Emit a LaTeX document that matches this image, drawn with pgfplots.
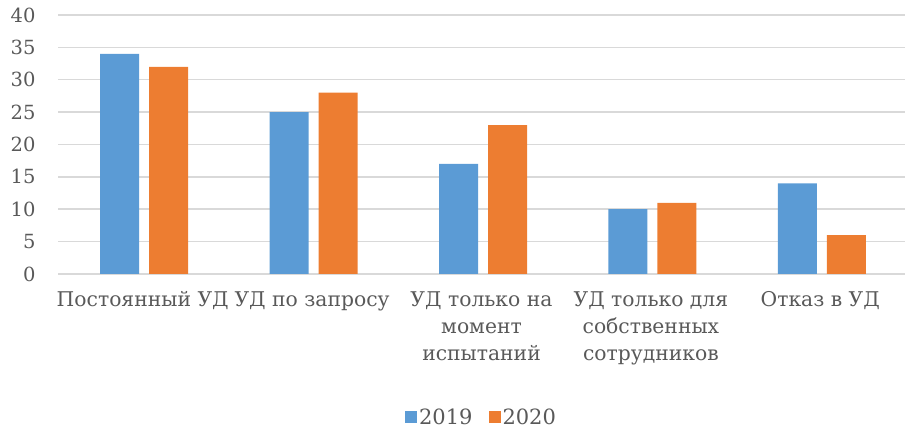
\documentclass[border=0pt]{standalone}
\usepackage{pgfplots}
\pgfplotsset{compat=1.18}
\usepackage{fontspec}
\setmainfont{DejaVu Serif}
\definecolor{cblue}{HTML}{5B9BD5}
\definecolor{corange}{HTML}{ED7D31}
\definecolor{cgrid}{HTML}{D9D9D9}
\definecolor{ctext}{HTML}{595959}
\begin{document}
\begin{tikzpicture}[x=1pt,y=1pt]
\begin{axis}[
  scale only axis,
  width=847pt, height=259pt,
  xmin=-0.5, xmax=4.5, ymin=0, ymax=40,
  ytick={0,5,...,40},
  xtick=data,
  xticklabels={{Постоянный УД},{УД по запросу},{УД только на\\момент\\испытаний},{УД только для\\собственных\\сотрудников},{Отказ в УД}},
  x tick label style={align=center, font=\fontsize{20.3}{27}\selectfont, text=ctext, yshift=-14pt},
  y tick label style={font=\fontsize{19.5}{22}\selectfont, text=ctext, xshift=-19pt},
  /pgf/number format/assume math mode=true,
  axis line style={draw=none},
  major tick length=0pt,
  ymajorgrids, major grid style={cgrid, line width=1.5pt},
  axis x line*=bottom,
  x axis line style={draw=cgrid, line width=1.5pt},
  ybar, bar width=39pt,
  clip=false,
  legend style={at={(0.5,-0.595)}, anchor=south, draw=none, font=\fontsize{21}{24}\selectfont, text=ctext, legend columns=2, /tikz/every even column/.append style={column sep=14pt}, inner sep=0pt},
  legend image code/.code={\fill[#1] (0pt,-6pt) rectangle (12pt,6pt);},
]
\addplot[fill=cblue, draw=none, bar shift=-23pt] coordinates {(0,34) (1,25) (2,17) (3,10) (4,14)};
\addplot[fill=corange, draw=none, bar shift=26pt] coordinates {(0,32) (1,28) (2,23) (3,11) (4,6)};
\legend{2019,2020}
\path[use as bounding box] (axis description cs:-0.06848,-0.5792) rectangle (axis description cs:1.00708,1.0579);
\end{axis}
\end{tikzpicture}
\end{document}
